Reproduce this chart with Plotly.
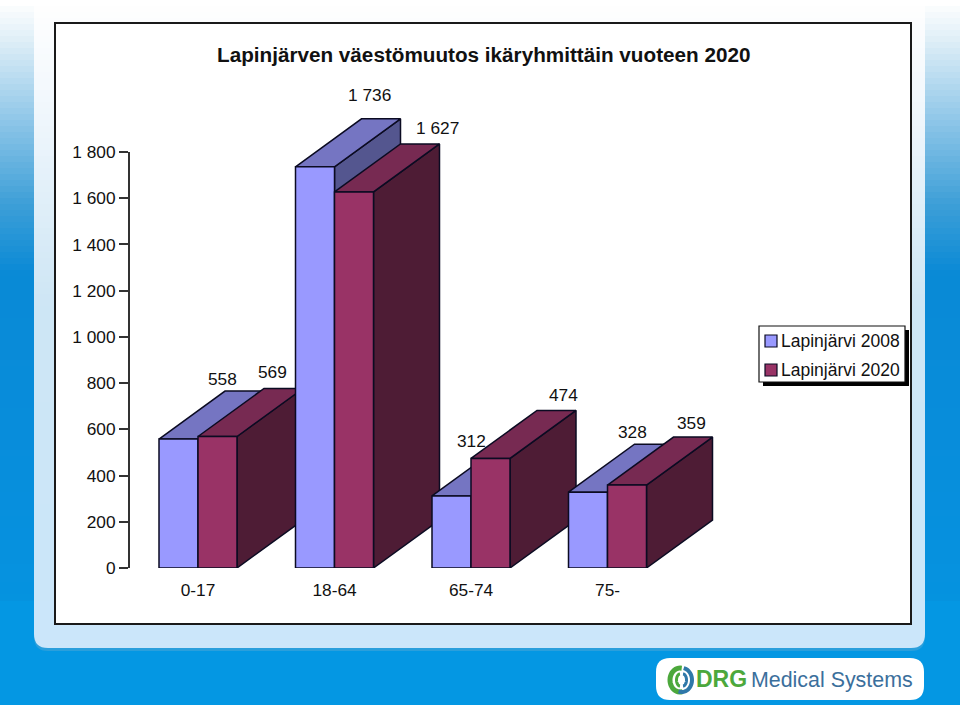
import numpy as np
import plotly.graph_objects as go

W, H = 960, 705
TITLE = "Lapinjärven väestömuutos ikäryhmittäin vuoteen 2020"
CATEGORIES = ["0-17", "18-64", "65-74", "75-"]
SERIES_NAMES = ["Lapinjärvi 2008", "Lapinjärvi 2020"]
VALUES_2008 = [558, 1736, 312, 328]
VALUES_2020 = [569, 1627, 474, 359]
Y_TICKS = [0, 200, 400, 600, 800, 1000, 1200, 1400, 1600, 1800]

# label nudges in pixels, relative to each bar's top-front centre
SHIFT_2008 = [(44, 60), (54, 72), (20, 55), (44, 60)]
SHIFT_2020 = [(55, 64), (83, 64), (73, 63), (64, 62)]

FACE = [("#9999FF", "#7575C2", "#54568F"), ("#993366", "#772A52", "#4E1C35")]
EDGE = "#0B0B22"
FONT = "Liberation Sans"

PX_X0, PX_X1, PX_STEP, PX_CENTER = 129, 720, 136.5, 198
PX_Y0, PX_PER_UNIT = 568, (568 - 152) / 1800
Y_MAX = 2000
PX_Y1 = PX_Y0 - Y_MAX * PX_PER_UNIT
BAR_W = 39 / PX_STEP
DX = 66 / PX_STEP
DY = 48 / PX_PER_UNIT


def fmt(v):
    return f"{v:,}".replace(",", " ")


def px(x):
    return x / W


def py(y):
    return 1 - y / H


def rect(x0, y0, x1, y1, fill, line=None, lw=0):
    return dict(type="rect", xref="paper", yref="paper", x0=px(x0), x1=px(x1),
                y0=py(y0), y1=py(y1), fillcolor=fill, layer="below",
                line=dict(color=line, width=lw) if line else dict(width=0))


def rounded(x0, y0, x1, y1, r, fill, top=True):
    a, b, c, d = px(x0), px(x1), py(y0), py(y1)
    rx, ry = r / W, r / H
    if top:
        p = (f"M{a+rx},{c} L{b-rx},{c} Q{b},{c} {b},{c-ry} L{b},{d+ry} Q{b},{d} {b-rx},{d} "
             f"L{a+rx},{d} Q{a},{d} {a},{d+ry} L{a},{c-ry} Q{a},{c} {a+rx},{c} Z")
    else:
        p = (f"M{a},{c} L{b},{c} L{b},{d+ry} Q{b},{d} {b-rx},{d} "
             f"L{a+rx},{d} Q{a},{d} {a},{d+ry} Z")
    return dict(type="path", xref="paper", yref="paper", path=p, fillcolor=fill,
                layer="below", line=dict(width=0))


def lerp_color(y, ys, cols):
    return "rgb(" + ",".join(str(int(np.interp(y, ys, [c[i] for c in cols]))) for i in range(3)) + ")"


def arc(cx, cy, rx, ry, a0, a1, color, width):
    t = np.radians(np.linspace(a0, a1, 24))
    pts = [f"{px(cx + rx*np.cos(v)):.5f},{py(cy - ry*np.sin(v)):.5f}" for v in t]
    return dict(type="path", xref="paper", yref="paper", path="M" + " L".join(pts),
                line=dict(color=color, width=width), layer="below")


shapes = [rect(0, 0, W, H, "#0497E3")]
side_y = [0, 40, 100, 200, 270, 450, 705]
side_c = [(255, 255, 255), (221, 238, 247), (160, 207, 236), (63, 160, 216), (10, 138, 214), (8, 142, 220), (4, 151, 227)]
for y in range(0, 600, 6):
    shapes.append(rect(0, y, W, y + 7, lerp_color(y, side_y, side_c)))
shapes.append(rounded(34, 0, 925, 651, 14, "#2A9FDC", top=False))
shapes.append(rounded(34, 0, 925, 648, 14, "#CBE6FA", top=False))
inner_y = [0, 100, 300, 600]
inner_c = [(255, 255, 255), (242, 248, 253), (206, 230, 245), (203, 230, 250)]
for y in range(0, 600, 6):
    shapes.append(rect(34, y, 925, y + 7, lerp_color(y, inner_y, inner_c)))
shapes.append(rect(55, 23, 911, 624, "#FFFFFF", "#1A1A1A", 2))
# legend box with drop shadow
shapes.append(rect(763, 330, 909, 386, "#000000"))
shapes.append(rect(759, 326, 905, 382, "#FFFFFF", "#111111", 1.2))
for i, yy in enumerate([341, 370]):
    shapes.append(rect(765, yy - 6, 777, yy + 6, FACE[i][0], EDGE, 1.2))
# logo plate
shapes.append(rounded(656, 658, 924, 700, 14, "#FFFFFF"))
shapes.append(arc(680, 680, 10, 12, 80, 285, "#4CA83C", 5))
shapes.append(arc(682, 680, 10, 12, -110, 80, "#2F78A8", 4))
shapes.append(arc(680, 680, 3.5, 6, 90, 270, "#4CA83C", 3))
shapes.append(arc(683, 680, 3.5, 6, -90, 90, "#2F78A8", 3))
# value axis line, stopping at the top tick
shapes.append(dict(type="line", xref="paper", yref="y", x0=px(PX_X0), x1=px(PX_X0), y0=0, y1=Y_TICKS[-1],
                   line=dict(color="#333333", width=2), layer="above"))

fig = go.Figure()


def poly(xs, ys, color):
    fig.add_trace(go.Scatter(x=xs + xs[:1], y=ys + ys[:1], mode="lines", fill="toself",
                             fillcolor=color, line=dict(color=EDGE, width=1.5),
                             hoverinfo="skip", showlegend=False))


annotations = []
for i, cat in enumerate(CATEGORIES):
    for s, vals in enumerate([VALUES_2008, VALUES_2020]):
        v = vals[i]
        x0 = i + (s - 1) * BAR_W
        x1 = x0 + BAR_W
        front, top, side = FACE[s]
        poly([x1, x1 + DX, x1 + DX, x1], [0, DY, v + DY, v], side)
        poly([x0, x0 + DX, x1 + DX, x1], [v, v + DY, v + DY, v], top)
        poly([x0, x1, x1, x0], [0, 0, v, v], front)
for i in range(len(CATEGORIES)):
    for s, (vals, shift) in enumerate([(VALUES_2008, SHIFT_2008), (VALUES_2020, SHIFT_2020)]):
        annotations.append(dict(x=i + (s - 0.5) * BAR_W, y=vals[i], xref="x", yref="y", text=fmt(vals[i]),
                                showarrow=False, xshift=shift[i][0], yshift=shift[i][1],
                                font=dict(family=FONT, size=17.3, color="#111111")))


def ptext(x, y, text, size, color, anchor="left"):
    annotations.append(dict(x=px(x), y=py(y), xref="paper", yref="paper", text=text, showarrow=False,
                            xanchor=anchor, yanchor="middle", borderpad=0,
                            font=dict(family=FONT, size=size, color=color)))


ptext(483, 54.5, f"<b>{TITLE}</b>", 20.7, "#111111", anchor="center")
ptext(780, 341, SERIES_NAMES[0], 17.5, "#111111")
ptext(780, 370, SERIES_NAMES[1], 17.5, "#111111")
ptext(695, 679, "<b>DRG</b>", 23, "#4CA83C")
ptext(750, 680, "Medical Systems", 21.4, "#3B6F9C")

fig.update_layout(
    width=W, height=H, margin=dict(l=0, r=0, t=0, b=0, autoexpand=False), autosize=False,
    paper_bgcolor="#FFFFFF", plot_bgcolor="rgba(0,0,0,0)", showlegend=False,
    shapes=shapes, annotations=annotations,
    font=dict(family=FONT, size=17.3, color="#111111"),
    xaxis=dict(domain=[px(PX_X0), px(PX_X1)],
               range=[(PX_X0 - PX_CENTER) / PX_STEP, (PX_X1 - PX_CENTER) / PX_STEP],
               tickvals=list(range(len(CATEGORIES))), ticktext=CATEGORIES,
               showgrid=False, zeroline=False, showline=False, ticks="", ticklabelstandoff=10),
    yaxis=dict(domain=[py(PX_Y0), py(PX_Y1)], range=[0, Y_MAX],
               tickvals=Y_TICKS, ticktext=[fmt(v) for v in Y_TICKS],
               showgrid=False, zeroline=False, showline=False,
               ticks="outside", ticklen=9, tickcolor="#333333", tickwidth=1.5),
)
fig.write_html("out.html", config=dict(displayModeBar=False),
               post_script="document.body.style.margin='0';document.documentElement.style.overflow='hidden';")
